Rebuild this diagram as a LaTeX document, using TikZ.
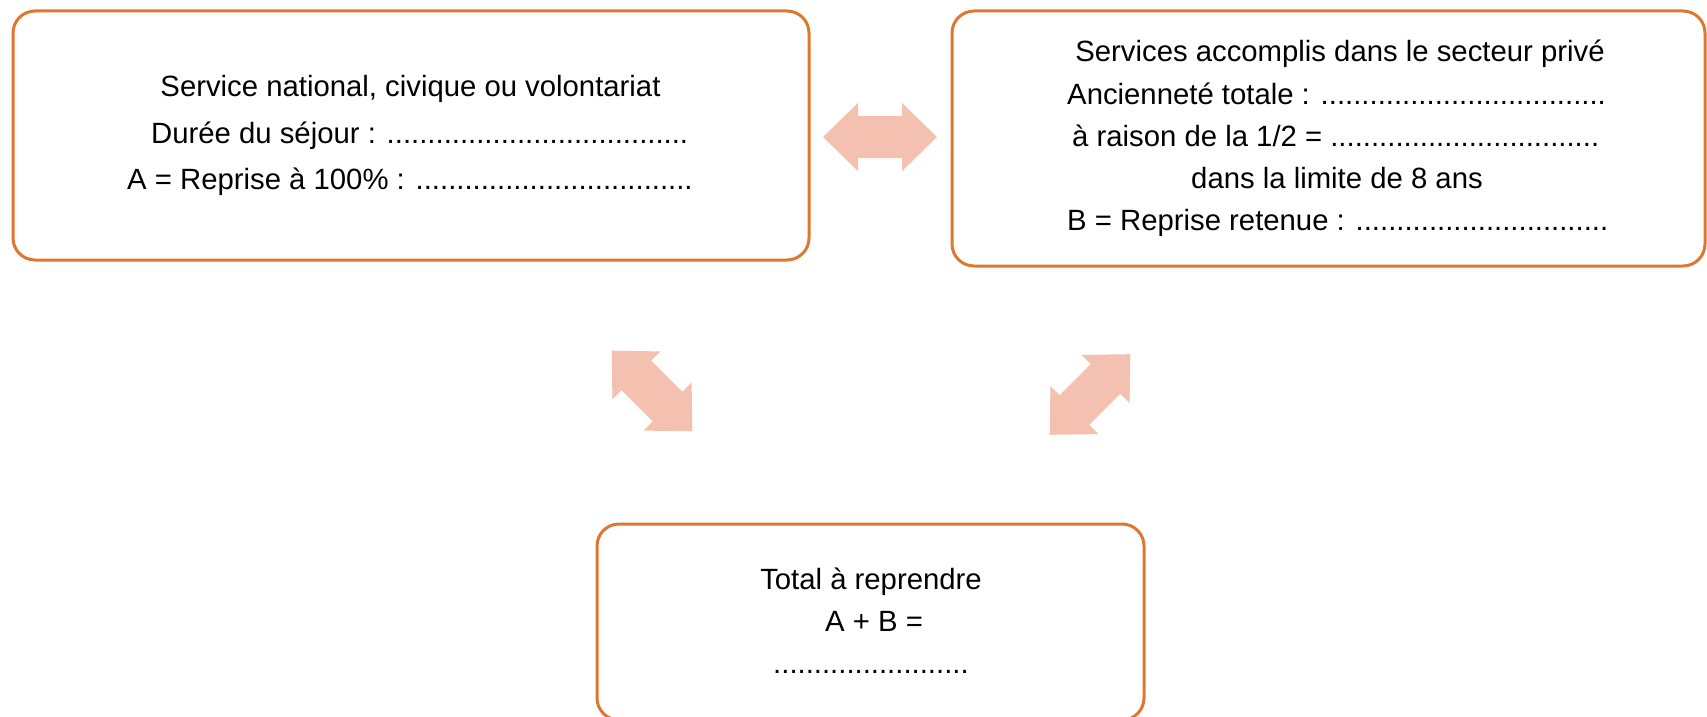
\documentclass[tikz,border=0pt]{standalone}
\usepackage{fontspec}
\setmainfont{Liberation Sans}
\definecolor{boxorange}{RGB}{223,119,48}
\definecolor{arrowpink}{RGB}{244,192,175}
\tikzset{
  box/.style={draw=boxorange, line width=3pt, rounded corners=22pt, inner sep=0pt},
  txt/.style={font=\fontsize{29.3}{34}\selectfont, inner sep=0pt},
  pics/dblarrow/.style={code={
    \fill[arrowpink] (-57,0) -- (-22,-34) -- (-22,-21) -- (22,-21) -- (22,-34) -- (57,0)
      -- (22,34) -- (22,21) -- (-22,21) -- (-22,34) -- cycle;}}
}
\begin{document}
\begin{tikzpicture}[x=1pt,y=-1pt]
\useasboundingbox (0,0) rectangle (1707,717);
\clip (0,0) rectangle (1707,717);
% boxes
\node[box, minimum width=796pt, minimum height=249pt] (national) at (411,135.5) {};
\node[box, minimum width=753pt, minimum height=255pt] (prive) at (1328.5,138.5) {};
\node[box, minimum width=547pt, minimum height=196pt] (total) at (870.5,622) {};
% left box text
\node[txt, anchor=base] (n1) at (410.5,96.7) {Service national, civique ou volontariat};
\node[txt, anchor=base west] (n2) at (151,143) {Durée du séjour : .....................................};
\node[txt, anchor=base west] (n3) at (127,189.3) {A = Reprise à 100\% : ..................................};
% right box text
\node[txt, anchor=base] (p1) at (1340,61.7) {Services accomplis dans le secteur privé};
\node[txt, anchor=base west] (p2) at (1067,104) {Ancienneté totale : ...................................};
\node[txt, anchor=base west] (p3) at (1072,146.5) {à raison de la 1/2 = .................................};
\node[txt, anchor=base] (p4) at (1337,188.5) {dans la limite de 8 ans};
\node[txt, anchor=base west] (p5) at (1067,230.5) {B = Reprise retenue : ...............................};
% bottom box text
\node[txt, anchor=base] (t1) at (871,589) {Total à reprendre};
\node[txt, anchor=base] (t2) at (874,631) {A + B =};
\node[txt, anchor=base west] (t3) at (773,673) {........................};
% arrows
\pic at (880,137) {dblarrow};
\pic[rotate=-45] at (652,391) {dblarrow};
\pic[rotate=45] at (1090,394.5) {dblarrow};
\end{tikzpicture}
\end{document}
